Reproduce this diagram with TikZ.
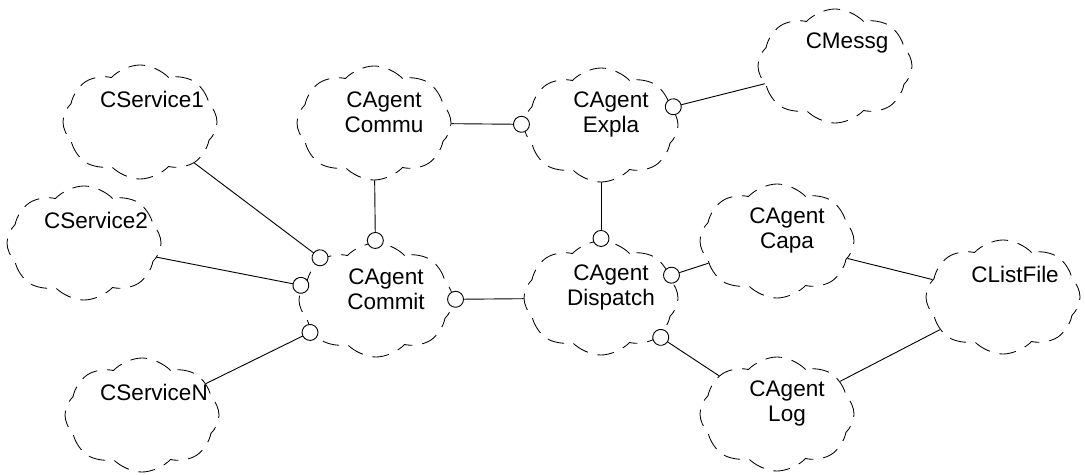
\documentclass[tikz,border=0pt]{standalone}
\usepackage{fontspec}
\setmainfont{Liberation Sans}
\usetikzlibrary{shapes.symbols, arrows.meta}

\tikzset{
  klass/.style={cloud, cloud puffs=8, cloud puff arc=95, cloud ignores aspect, draw, line width=0.6pt, dash pattern=on 12pt off 7pt, minimum width=3.85cm, minimum height=2.85cm},
  klabel/.style={align=center, anchor=center, xshift=0.3cm, yshift=0.57cm, font=\fontsize{16}{18}\selectfont},
  klabelii/.style={align=center, anchor=center, xshift=0.25cm, yshift=0.27cm, font=\fontsize{16}{18}\selectfont},
  has/.style={line width=0.65pt, shorten >=-4.5pt, -{Circle[open, fill=white, length=12pt, width=12pt, line width=0.65pt]}},
  uses/.style={line width=0.65pt}
}

\begin{document}
\begin{tikzpicture}[x=0.025cm, y=-0.025cm]
	\useasboundingbox (0,0) rectangle (1085,474);
	% services on the left
	\node[klass, label={[klabel]center:CService1}] at (140,122) (svc1) {};
	\node[klass, label={[klabel]center:CService2}] at (84,243) (svc2) {};
	\node[klass, label={[klabel]center:CServiceN}] at (142,415) (svcN) {};

	% agent classes
	\node[klass, label={[klabelii]center:CAgent\\Commu}] at (374,123) (commu) {};
	\node[klass, label={[klabelii]center:CAgent\\Commit}] at (376,300) (commit) {};
	\node[klass, label={[klabelii]center:CAgent\\Expla}] at (601,125) (expla) {};
	\node[klass, label={[klabelii]center:CAgent\\Dispatch}] at (601,298) (dispatch) {};
	\node[klass, label={[klabel]center:CMessg}] at (835,66) (messg) {};
	\node[klass, label={[klabelii]center:CAgent\\Capa}] at (777,241) (capa) {};
	\node[klass, label={[klabelii]center:CAgent\\Log}] at (777,414) (log) {};
	\node[klass, label={[klabel]center:CListFile}] at (1003,297) (listfile) {};

	% has relations, circle on the owner
	\draw[has] (svc1) -- (commit);
	\draw[has] (svc2) -- (commit);
	\draw[has] (svcN) -- (commit);
	\draw[has] (commu) -- (commit);
	\draw[has] (commu) -- (expla);
	\draw[has] (messg) -- (expla);
	\draw[has] (expla) -- (dispatch);
	\draw[has] (dispatch) -- (commit);
	\draw[has] (capa) -- (dispatch);
	\draw[has] (log) -- (dispatch);

	% plain associations
	\draw[uses] (capa) -- (listfile);
	\draw[uses] (log) -- (listfile);
\end{tikzpicture}
\end{document}
